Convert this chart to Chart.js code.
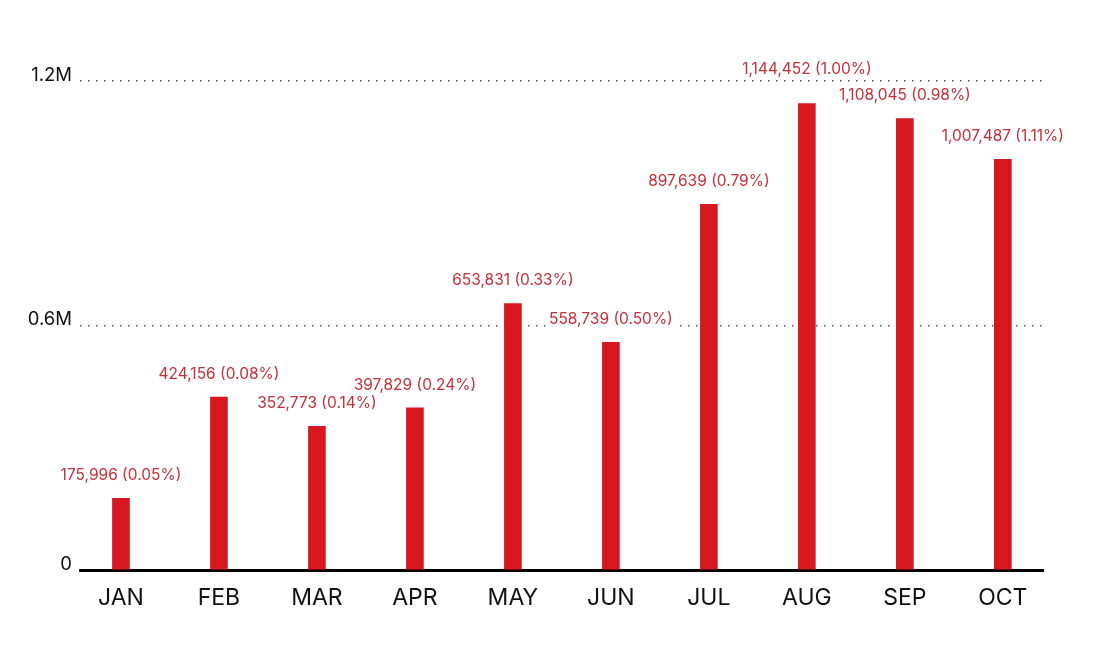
<!DOCTYPE html>
<html>
<head>
<meta charset="utf-8">
<script src="https://cdn.jsdelivr.net/npm/chart.js@4"></script>
<style>
  html, body { margin: 0; padding: 0; background: #fff; }
  #wrap { width: 1108px; height: 653px; position: relative; }
</style>
</head>
<body>
<div id="wrap"><canvas id="monthChart"></canvas></div>
<script>
const months = ['JAN', 'FEB', 'MAR', 'APR', 'MAY', 'JUN', 'JUL', 'AUG', 'SEP', 'OCT'];
const counts = [175996, 424156, 352773, 397829, 653831, 558739, 897639, 1144452, 1108045, 1007487];
const shares = [0.05, 0.08, 0.14, 0.24, 0.33, 0.50, 0.79, 1.00, 0.98, 1.11];
const yTicks = [0, 600000, 1200000];

const barColor = '#d7191f';
const labelColor = '#c4303a';
const fontFamily = 'Inter, "Noto Sans", sans-serif';

// value labels above each bar, with a white box so gridlines don't run through the text
const valueLabels = {
  id: 'valueLabels',
  afterDatasetsDraw(chart) {
    const { ctx, chartArea } = chart;
    const meta = chart.getDatasetMeta(0);
    ctx.save();
    ctx.font = `15.5px ${fontFamily}`;
    ctx.textAlign = 'center';
    ctx.textBaseline = 'middle';
    meta.data.forEach((bar, i) => {
      const text = `${counts[i].toLocaleString('en-US')} (${shares[i].toFixed(2)}%)`;
      let y = bar.y - 23;
      // keep the label clear of the top gridline
      if (Math.abs(y - chartArea.top) < 9) y = chartArea.top - 12;
      const w = ctx.measureText(text).width;
      ctx.fillStyle = '#fff';
      ctx.fillRect(bar.x - w / 2 - 2, y - 9, w + 4, 18);
      ctx.fillStyle = labelColor;
      ctx.fillText(text, bar.x, y);
    });
    ctx.restore();
  },
};

const ctx = document.getElementById('monthChart').getContext('2d');

const monthChart = new Chart(ctx, {
  type: 'bar',
  data: {
    datasets: [
      {
        data: counts.map((v, i) => ({ x: i, y: v })),
        backgroundColor: barColor,
        borderWidth: 0,
        barThickness: 17,
      },
    ],
  },
  options: {
    responsive: true,
    maintainAspectRatio: false,
    animation: false,
    layout: { padding: { top: 81, right: 65, left: 0, bottom: 0 } },
    plugins: {
      legend: { display: false },
      tooltip: { enabled: false },
    },
    scales: {
      x: {
        type: 'linear',
        offset: false,
        min: -0.418,
        max: 9.41,
        grid: { display: false, drawTicks: false, offset: false },
        border: { display: true, color: '#000', width: 3 },
        afterFit(scale) { scale.height = 83; },
        afterBuildTicks(scale) {
          scale.ticks = months.map((m, i) => ({ value: i }));
        },
        ticks: {
          padding: 14,
          color: '#111',
          font: { family: fontFamily, size: 23 },
          callback: (v) => months[v] ?? '',
        },
      },
      y: {
        min: 0,
        max: 1200000,
        grid: {
          drawTicks: false,
          color: '#555',
          lineWidth: 1.5,
        },
        border: { display: false, dash: [1.5, 6.5] },
        afterFit(scale) { scale.width = 80; },
        afterBuildTicks(scale) {
          scale.ticks = yTicks.map((v) => ({ value: v }));
        },
        ticks: {
          padding: 8,
          labelOffset: -6,
          color: '#111',
          font: { family: fontFamily, size: 18.5 },
          callback: (v) => (v === 0 ? '0' : `${v / 1000000}M`),
        },
      },
    },
  },
  plugins: [valueLabels],
});
</script>
</body>
</html>
